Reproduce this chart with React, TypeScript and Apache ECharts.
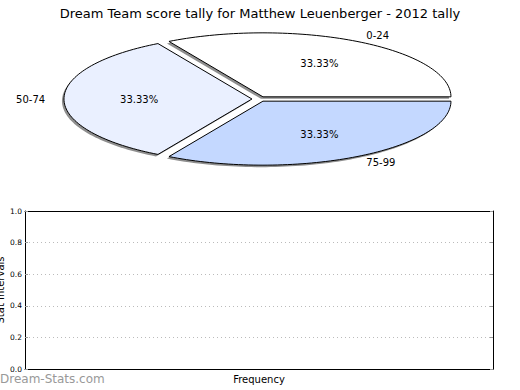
import React, { useEffect, useRef } from "react";
import * as echarts from "echarts";

const TITLE = "Dream Team score tally for Matthew Leuenberger - 2012 tally";
const categories = ["0-24", "50-74", "75-99"];
const values = [1, 1, 1];
const sliceColors = ["#ffffff", "#eaf0ff", "#c4d8ff"];
const yTicks = [0, 0.2, 0.4, 0.6, 0.8, 1.0];
const Y_NAME = "Stat Intervals";
const X_NAME = "Frequency";

const FONT = "DejaVu Sans";

export default function App() {
  const ref = useRef<HTMLDivElement>(null);
  useEffect(() => {
    if (!ref.current) return;
    const chart = echarts.init(ref.current, null, { renderer: "svg" });
    const total = values.reduce((a, b) => a + b, 0);
    const cum: number[] = [];
    values.reduce((acc, v, i) => {
      cum[i] = acc;
      return acc + v;
    }, 0);
    const CX = 259.3, CY = 99, RX = 188, RY = 64, E = 0.039;

    const renderItem = (params: any, api: any) => {
      const i = params.dataIndex;
      const v = api.value(0);
      const a0 = (cum[i] / total) * Math.PI * 2;
      const a1 = ((cum[i] + v) / total) * Math.PI * 2;
      const mid = (a0 + a1) / 2;
      const ox = CX + E * RX * Math.cos(mid);
      const oy = CY - E * RY * Math.sin(mid);
      const pts: number[][] = [[ox, oy]];
      const steps = 80;
      for (let k = 0; k <= steps; k++) {
        const t = a0 + ((a1 - a0) * k) / steps;
        pts.push([ox + RX * Math.cos(t), oy - RY * Math.sin(t)]);
      }
      const shadowPts = pts.map((p) => [p[0] - 2, p[1] + 2]);
      const c = Math.cos(mid);
      const pct = ((v / total) * 100).toFixed(2) + "%";
      return {
        type: "group",
        children: [
          {
            type: "polygon",
            z2: 0,
            shape: { points: shadowPts },
            style: { fill: "rgba(50,50,50,0.55)", stroke: "none" },
          },
          {
            type: "polygon",
            z2: 5,
            shape: { points: pts },
            style: { fill: sliceColors[i], stroke: "#000", lineWidth: 1 },
          },
          {
            type: "text",
            z2: 10,
            x: ox + 1.1 * RX * c,
            y: oy - 1.1 * RY * Math.sin(mid),
            style: {
              text: categories[i],
              fill: "#000",
              font: `10px '${FONT}'`,
              align: c > 0.001 ? "left" : c < -0.001 ? "right" : "center",
              verticalAlign: "middle",
            },
          },
          {
            type: "text",
            z2: 10,
            x: ox + 0.6 * RX * c,
            y: oy - 0.6 * RY * Math.sin(mid),
            style: {
              text: pct,
              fill: "#000",
              font: `10px '${FONT}'`,
              align: "center",
              verticalAlign: "middle",
            },
          },
        ],
      };
    };

    chart.setOption({
      animation: false,
      textStyle: { fontFamily: FONT },
      title: {
        text: TITLE,
        left: "center",
        top: 2,
        textStyle: { fontSize: 13, fontWeight: "normal", color: "#000", fontFamily: FONT },
      },
      grid: {
        left: 25,
        top: 211,
        width: 468,
        height: 158,
        show: false,
      },
      xAxis: [
        {
          type: "value",
          min: 0,
          max: 1,
          name: X_NAME,
          nameLocation: "middle",
          nameGap: 5,
          nameTextStyle: { fontSize: 10, color: "#000", fontFamily: FONT },
          axisLine: { show: true, onZero: false, lineStyle: { color: "#000", width: 1 } },
          axisTick: { show: false },
          axisLabel: { show: false },
          splitLine: { show: false },
        },
        {
          type: "value",
          position: "top",
          min: 0,
          max: 1,
          axisLine: { show: true, onZero: false, lineStyle: { color: "#000", width: 1 } },
          axisTick: { show: false },
          axisLabel: { show: false },
          splitLine: { show: false },
        },
      ],
      yAxis: [
        {
          type: "value",
          min: 0,
          max: 1,
          interval: 0.2,
          axisLine: { show: true, onZero: false, lineStyle: { color: "#000", width: 1 } },
          axisTick: { show: true, inside: true, length: 3, lineStyle: { color: "#999" } },
          axisLabel: {
            fontSize: 7.5,
            color: "#000",
            margin: 3,
            fontFamily: FONT,
            formatter: (v: number) => {
              const m = yTicks.find((t) => Math.abs(t - v) < 1e-9);
              return (m !== undefined ? m : v).toFixed(1);
            },
          },
          splitLine: {
            show: true,
            showMinLine: false,
            showMaxLine: false,
            lineStyle: { color: "#bbb", type: [1, 3], width: 1 },
          },
        },
        {
          type: "value",
          position: "right",
          min: 0,
          max: 1,
          interval: 0.2,
          axisLine: { show: true, onZero: false, lineStyle: { color: "#000", width: 1 } },
          axisTick: { show: true, inside: true, length: 3, lineStyle: { color: "#999" } },
          axisLabel: { show: false },
          splitLine: { show: false },
        },
      ],
      graphic: [
        {
          type: "text",
          x: 0,
          y: 290,
          rotation: Math.PI / 2,
          style: {
            text: Y_NAME,
            fill: "#000",
            font: `10px '${FONT}'`,
            align: "center",
            verticalAlign: "middle",
          },
        },
        {
          type: "text",
          left: 0,
          top: 373,
          style: { text: "Dream-Stats.com", fill: "#999", font: `12px '${FONT}'` },
        },
      ],
      series: [
        {
          type: "custom",
          coordinateSystem: "none",
          renderItem,
          data: values.map((v, i) => ({ name: categories[i], value: [v] })),
        },
        {
          type: "line",
          xAxisIndex: 0,
          yAxisIndex: 0,
          data: [],
        },
      ],
    });
    return () => chart.dispose();
  }, []);
  return (
    <div
      ref={ref}
      style={{ position: "absolute", left: 0, top: 0, width: 520, height: 390 }}
    />
  );
}
